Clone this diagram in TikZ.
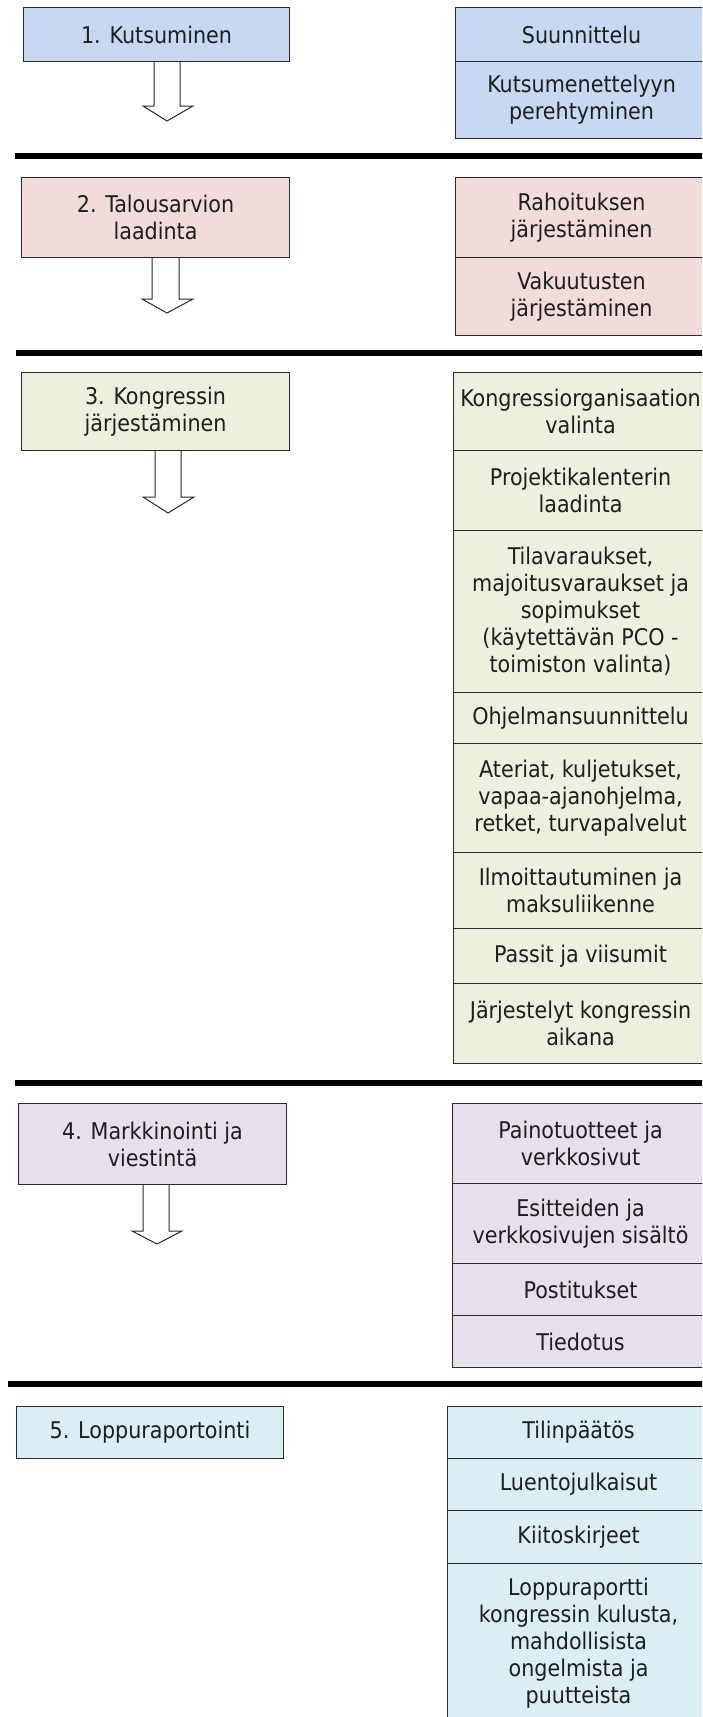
\documentclass[tikz,border=0pt]{standalone}
\usepackage{fontspec}
\setmainfont{DejaVu Sans Condensed}
\usetikzlibrary{calc}
\definecolor{cblue}{HTML}{C6D9F1}
\definecolor{cpink}{HTML}{F2DCDB}
\definecolor{cgreen}{HTML}{EBF1DE}
\definecolor{cviolet}{HTML}{E5E0EC}
\definecolor{caqua}{HTML}{DBEEF4}
\definecolor{bordc}{HTML}{2A2A2A}
\definecolor{textc}{HTML}{1E1E1E}
\begin{document}
\begin{tikzpicture}[x=1pt,y=-1pt,
  cell/.style={draw=bordc, line width=1.1pt, inner sep=0pt, anchor=north west,
    align=center, text=textc, font=\fontsize{23}{27}\selectfont},
  sepline/.style={line width=5.5pt, black},
  blockarrow/.style={draw=bordc, fill=white, line width=1pt, line join=miter}]
\useasboundingbox (0,0) rectangle (702,1717);
\clip (0,0) rectangle (702,1717);

% ---------- section 1 ----------
\coordinate (t1) at (167,121);
\draw[blockarrow] (154,61) -- (154,106) -- (143,106) -- (t1) -- (193,106) -- (180,106) -- (180,61);
\node[cell, fill=cblue, minimum width=266pt, minimum height=54pt] (l1) at (23,7) {1. Kutsuminen};
\node[cell, fill=cblue, minimum width=252pt, minimum height=54pt] (r1a) at (455,7) {Suunnittelu};
\node[cell, fill=cblue, minimum width=252pt, minimum height=77pt] (r1b) at (455,61) {Kutsumenettelyyn\\perehtyminen};
\coordinate (s1a) at (15,156); \coordinate (s1b) at (710,156);
\draw[sepline] (s1a) -- (s1b);

% ---------- section 2 ----------
\coordinate (t2) at (167,313);
\draw[blockarrow] (152,257) -- (152,299) -- (142,299) -- (t2) -- (193,299) -- (179,299) -- (179,257);
\node[cell, fill=cpink, minimum width=268pt, minimum height=80pt] (l2) at (21,177) {2. Talousarvion\\laadinta};
\node[cell, fill=cpink, minimum width=252pt, minimum height=80pt] (r2a) at (455,177) {Rahoituksen\\järjestäminen};
\node[cell, fill=cpink, minimum width=252pt, minimum height=78pt] (r2b) at (455,257) {Vakuutusten\\järjestäminen};
\coordinate (s2a) at (16,353); \coordinate (s2b) at (710,353);
\draw[sepline] (s2a) -- (s2b);

% ---------- section 3 ----------
\coordinate (t3) at (168,513);
\draw[blockarrow] (155,450) -- (155,497) -- (143,497) -- (t3) -- (194,497) -- (181,497) -- (181,450);
\node[cell, fill=cgreen, minimum width=268pt, minimum height=78pt] (l3) at (21,372) {3. Kongressin\\järjestäminen};
\node[cell, fill=cgreen, minimum width=254pt, minimum height=78pt] (r3a) at (453,372) {Kongressiorganisaation\\valinta};
\node[cell, fill=cgreen, minimum width=254pt, minimum height=80pt] (r3b) at (453,450) {Projektikalenterin\\laadinta};
\node[cell, fill=cgreen, minimum width=254pt, minimum height=162pt] (r3c) at (453,530) {Tilavaraukset,\\majoitusvaraukset ja\\sopimukset\\(käytettävän PCO -\\toimiston valinta)};
\node[cell, fill=cgreen, minimum width=254pt, minimum height=51pt] (r3d) at (453,692) {Ohjelmansuunnittelu};
\node[cell, fill=cgreen, minimum width=254pt, minimum height=109pt] (r3e) at (453,743) {Ateriat, kuljetukset,\\vapaa-ajanohjelma,\\retket, turvapalvelut};
\node[cell, fill=cgreen, minimum width=254pt, minimum height=76pt] (r3f) at (453,852) {Ilmoittautuminen ja\\maksuliikenne};
\node[cell, fill=cgreen, minimum width=254pt, minimum height=55pt] (r3g) at (453,928) {Passit ja viisumit};
\node[cell, fill=cgreen, minimum width=254pt, minimum height=80pt] (r3h) at (453,983) {Järjestelyt kongressin\\aikana};
\coordinate (s3a) at (15,1083); \coordinate (s3b) at (710,1083);
\draw[sepline] (s3a) -- (s3b);

% ---------- section 4 ----------
\coordinate (t4) at (157,1244);
\draw[blockarrow] (143,1184) -- (143,1231) -- (132,1231) -- (t4) -- (182,1231) -- (169,1231) -- (169,1184);
\node[cell, fill=cviolet, minimum width=268pt, minimum height=81pt] (l4) at (18,1103) {4. Markkinointi ja\\viestintä};
\node[cell, fill=cviolet, minimum width=256pt, minimum height=80pt] (r4a) at (452,1103) {Painotuotteet ja\\verkkosivut};
\node[cell, fill=cviolet, minimum width=256pt, minimum height=80pt] (r4b) at (452,1183) {Esitteiden ja\\verkkosivujen sisältö};
\node[cell, fill=cviolet, minimum width=256pt, minimum height=52pt] (r4c) at (452,1263) {Postitukset};
\node[cell, fill=cviolet, minimum width=256pt, minimum height=52pt] (r4d) at (452,1315) {Tiedotus};
\coordinate (s4a) at (8,1384); \coordinate (s4b) at (710,1384);
\draw[sepline] (s4a) -- (s4b);

% ---------- section 5 ----------
\node[cell, fill=caqua, minimum width=267pt, minimum height=52pt] (l5) at (16,1406) {5. Loppuraportointi};
\node[cell, fill=caqua, minimum width=262pt, minimum height=52pt] (r5a) at (447,1406) {Tilinpäätös};
\node[cell, fill=caqua, minimum width=262pt, minimum height=52pt] (r5b) at (447,1458) {Luentojulkaisut};
\node[cell, fill=caqua, minimum width=262pt, minimum height=53pt] (r5c) at (447,1510) {Kiitoskirjeet};
\node[cell, fill=caqua, minimum width=262pt, minimum height=160pt] (r5d) at (447,1563) {Loppuraportti\\kongressin kulusta,\\mahdollisista\\ongelmista ja\\puutteista};
\end{tikzpicture}
\end{document}
